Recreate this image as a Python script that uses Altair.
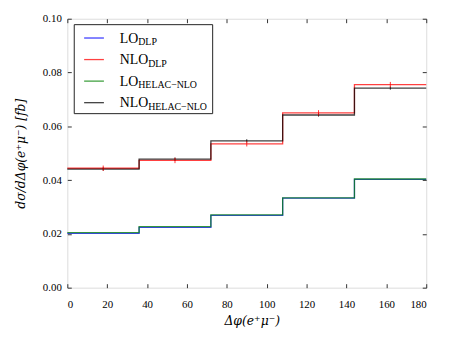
import altair as alt
import pandas as pd

# ---- data ----
edges = [0, 36, 72, 108, 144, 180]
centers = [18, 54, 90, 126, 162]
lo_dlp = [0.0202, 0.0224, 0.0269, 0.0333, 0.0403]
nlo_dlp = [0.0444, 0.0473, 0.0535, 0.0650, 0.0755]
lo_helac = [0.0205, 0.0227, 0.0271, 0.0334, 0.0404]
nlo_helac = [0.0441, 0.0478, 0.0546, 0.0642, 0.0742]
nlo_dlp_err = [0.0010, 0.0010, 0.0010, 0.0010, 0.0010]
nlo_helac_err = [0.0006, 0.0006, 0.0006, 0.0006, 0.0006]
x_ticks = [0, 20, 40, 60, 80, 100, 120, 140, 160, 180]
y_ticks = [0.0, 0.02, 0.04, 0.06, 0.08, 0.10]

legend_main = ["LO", "NLO", "LO", "NLO"]
legend_sub = ["DLP", "DLP", "HELAC\u2212NLO", "HELAC\u2212NLO"]
colors = ["#0000ff", "#ff0000", "#008000", "#000000"]

FONT = "Liberation Serif"
TFONT = "DejaVu Serif"
W, H = 363, 272

xscale = alt.Scale(domain=[0, 180], nice=False, zero=False)
yscale = alt.Scale(domain=[0, 0.1], nice=False)

common_axis = dict(grid=False, domain=False, tickSize=4, offset=-4, tickColor="#333",
                   labelFont=FONT, labelFontSize=11, labelColor="#000",
                   titleFont=TFONT, titleFontSize=12.5, titleColor="#000",
                   titleFontWeight="normal", titleFontStyle="italic")

x_bottom = alt.Axis(values=x_ticks, orient="bottom", labelPadding=11,
                    title="\u0394\u03c6(e\u207a\u03bc\u207b)", titlePadding=5,
                    titleX=W / 2 + 5, **common_axis)
y_left = alt.Axis(values=y_ticks, orient="left", format=".2f", labelPadding=6,
                  title="d\u03c3/d\u0394\u03c6(e\u207a\u03bc\u207b) [fb]", titlePadding=15,
                  **common_axis)
x_top = alt.Axis(values=x_ticks, orient="top", labels=False, title=None, **common_axis)
y_right = alt.Axis(values=y_ticks, orient="right", labels=False, title=None, **common_axis)


def step_frame(vals):
    return pd.DataFrame({"x": edges, "y": vals + [vals[-1]]})


series = [lo_dlp, nlo_dlp, lo_helac, nlo_helac]
errors = {1: nlo_dlp_err, 3: nlo_helac_err}
layers = []
for i, (vals, col) in enumerate(zip(series, colors)):
    if i == 0:
        xa, ya = x_bottom, y_left
    elif i == 3:
        xa, ya = x_top, y_right
    else:
        xa, ya = None, None
    line = alt.Chart(step_frame(vals)).mark_line(
        interpolate="step-after", color=col, strokeWidth=1.3, opacity=0.75
    ).encode(
        x=alt.X("x:Q", scale=xscale, axis=xa),
        y=alt.Y("y:Q", scale=yscale, axis=ya),
    )
    layers.append(line)

for i in (3, 1):
    edf = pd.DataFrame({"x": centers, "y": series[i], "e": errors[i]})
    eb = alt.Chart(edf).transform_calculate(
        lo="datum.y - datum.e", hi="datum.y + datum.e"
    ).mark_rule(color=colors[i], strokeWidth=1, opacity=0.8).encode(
        x=alt.X("x:Q", scale=xscale, axis=None),
        y=alt.Y("lo:Q", scale=yscale, axis=None),
        y2="hi:Q",
    )
    layers.append(eb)

# ---- legend drawn by hand (to allow subscripts) ----
one = pd.DataFrame({"a": [0]})
box = alt.Chart(one).mark_rect(fill="white", stroke="#222", strokeWidth=1).encode(
    x=alt.value(7), x2=alt.value(147), y=alt.value(6), y2=alt.value(96)
)
layers.append(box)
row_y = [19.5, 41.3, 63.1, 84.9]
main_w = {"LO": 18.7, "NLO": 28.8}
for main, sub, col, ry in zip(legend_main, legend_sub, colors, row_y):
    layers.append(alt.Chart(one).mark_rule(color=col, strokeWidth=1.3, opacity=0.75).encode(
        x=alt.value(17), x2=alt.value(37), y=alt.value(ry)))
    layers.append(alt.Chart(one).mark_text(
        text=main, font=FONT, fontSize=14, align="left", baseline="alphabetic", color="#000"
    ).encode(x=alt.value(53), y=alt.value(ry + 4.8)))
    layers.append(alt.Chart(one).mark_text(
        text=sub, font=FONT, fontSize=10, align="left", baseline="alphabetic", color="#000"
    ).encode(x=alt.value(53 + main_w[main]), y=alt.value(ry + 7.2)))

chart = alt.layer(*layers).resolve_axis(x="independent", y="independent").properties(
    width=W, height=H,
    autosize=alt.AutoSizeParams(type="none"),
    padding={"left": 60, "top": 9, "right": 20, "bottom": 44},
).configure_view(stroke="#333", strokeWidth=1).configure_axis(
    labelFont=FONT
).configure(background="white")

chart.save("out.html", embed_options={"renderer": "svg", "actions": False})
